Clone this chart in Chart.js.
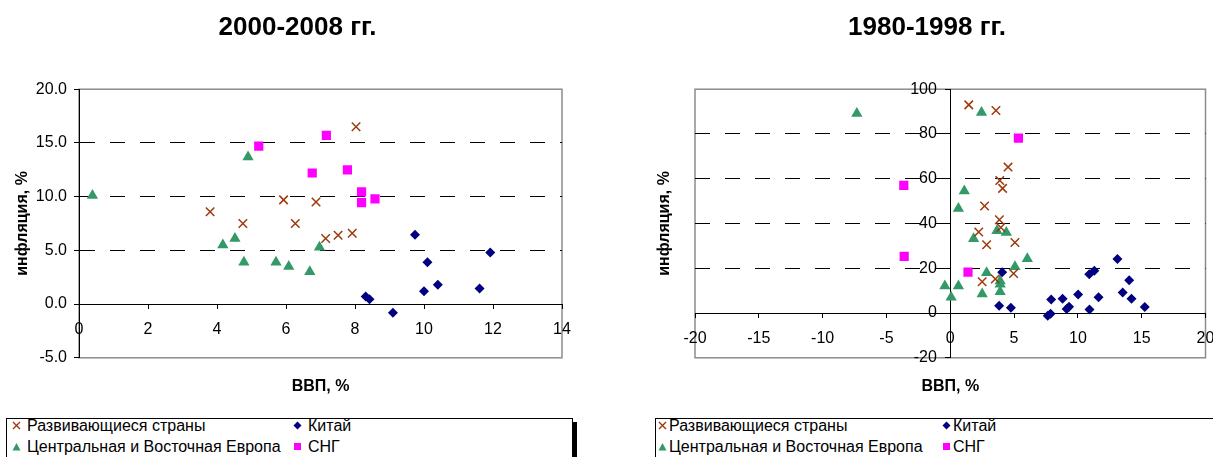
<!DOCTYPE html>
<html lang="ru">
<head>
<meta charset="utf-8">
<script src="https://cdn.jsdelivr.net/npm/chart.js@4"></script>
<style>
  body { margin: 0; background: #fff; width: 1213px; height: 457px; overflow: hidden; position: relative;
         font-family: "Liberation Sans", Arial, sans-serif; }
  canvas { position: absolute; top: 0; }
  #c1 { left: 0; }
  #c2 { left: 641px; }
  .box { position: absolute; top: 418px; height: 60px; border: 1px solid #000; box-shadow: 4px 4px 0 #000; background: #fff; }
  .it { position: absolute; font-size: 16px; line-height: 21px; white-space: nowrap; color: #000; }
  .it svg { position: absolute; left: -15px; top: 6px; }
  .r svg { left: -11px; }
</style>
</head>
<body>
<canvas id="c1" width="595" height="400"></canvas>
<canvas id="c2" width="572" height="400"></canvas>

<div class="box" style="left:6px;width:565px"></div>
<div class="box" style="left:655px;width:600px"></div>

<div class="it" style="left:27px;top:415px"><svg width="9" height="9"><path d="M1 1L8 8M8 1L1 8" stroke="#9C3A0C" stroke-width="1.4"/></svg>Развивающиеся страны</div>
<div class="it" style="left:308px;top:415px"><svg width="9" height="9"><polygon points="4.5,0.5 8.5,4.5 4.5,8.5 0.5,4.5" fill="#000080"/></svg>Китай</div>
<div class="it" style="left:27px;top:436px"><svg width="9" height="9"><polygon points="4.5,1 8.5,8.5 0.5,8.5" fill="#339966"/></svg>Центральная и Восточная Европа</div>
<div class="it" style="left:308px;top:436px"><svg width="9" height="9"><rect x="1" y="1" width="7" height="7" fill="#FF00FF"/></svg>СНГ</div>

<div class="it r" style="left:669px;top:415px"><svg width="9" height="9"><path d="M1 1L8 8M8 1L1 8" stroke="#9C3A0C" stroke-width="1.4"/></svg>Развивающиеся страны</div>
<div class="it r" style="left:953px;top:415px"><svg width="9" height="9"><polygon points="4.5,0.5 8.5,4.5 4.5,8.5 0.5,4.5" fill="#000080"/></svg>Китай</div>
<div class="it r" style="left:669px;top:436px"><svg width="9" height="9"><polygon points="4.5,1 8.5,8.5 0.5,8.5" fill="#339966"/></svg>Центральная и Восточная Европа</div>
<div class="it r" style="left:953px;top:436px"><svg width="9" height="9"><rect x="1" y="1" width="7" height="7" fill="#FF00FF"/></svg>СНГ</div>

<script>
// 2000-2008: ВВП (x) и инфляция (y)
const devGdpA = [3.8, 4.75, 5.93, 6.27, 6.87, 7.15, 7.51, 7.92, 8.03];
const devInfA = [8.6, 7.5, 9.7, 7.5, 9.5, 6.1, 6.4, 6.6, 16.5];
const chinaGdpA = [9.74, 10.1, 11.92, 10.4, 10.0, 11.61, 8.31, 8.42, 9.1];
const chinaInfA = [6.45, 3.9, 4.8, 1.8, 1.2, 1.45, 0.7, 0.45, -0.8];
const ceeGdpA = [0.39, 4.9, 4.17, 4.52, 4.78, 5.71, 6.08, 6.69, 6.97];
const ceeInfA = [10.1, 13.7, 5.5, 6.1, 3.9, 3.9, 3.5, 3.0, 5.3];
const cisGdpA = [5.21, 7.17, 6.76, 7.78, 8.19, 8.19, 8.58];
const cisInfA = [14.7, 15.7, 12.2, 12.5, 10.45, 9.45, 9.8];

// 1980-1998
const devGdpB = [1.45, 3.58, 4.53, 3.88, 4.1, 2.69, 3.85, 3.96, 2.23, 5.07, 2.85, 4.96, 3.53, 2.5];
const devInfB = [93.0, 90.5, 65.2, 59.2, 55.7, 47.8, 41.7, 38.2, 36.2, 31.5, 30.5, 17.7, 15.2, 14.0];
const chinaGdpB = [4.07, 3.83, 4.75, 7.91, 8.8, 7.64, 7.86, 9.12, 9.31, 10.02, 10.91, 10.89, 11.29, 11.62, 13.1, 13.51, 14.02, 14.2, 15.24];
const chinaInfB = [18.2, 3.3, 2.4, 6.1, 6.4, -1.2, -0.3, 1.8, 2.8, 8.3, 1.6, 17.3, 18.9, 7.1, 24.1, 9.2, 14.7, 6.4, 2.7];
const ceeGdpB = [-7.32, 2.45, 1.1, 0.64, 1.83, 3.66, 4.39, 6.04, 5.07, 2.85, 3.91, 3.91, 3.91, 2.5, -0.42, 0.64, 0.07];
const ceeInfB = [89.1, 89.6, 54.5, 46.7, 33.2, 36.8, 36.0, 24.3, 20.7, 18.0, 14.3, 12.9, 9.5, 8.5, 12.05, 12.05, 7.0];
const cisGdpB = [5.34, -3.64, -3.61, 1.39];
const cisInfB = [78.1, 57.0, 25.3, 18.3];

const seriesNames = ['Развивающиеся страны', 'Китай', 'Центральная и Восточная Европа', 'СНГ'];

const FONT = 'Liberation Sans, Arial, sans-serif';
const tickFont = { family: FONT, size: 16 };
const boldFont = { family: FONT, size: 16, weight: 'bold' };

function pts(xs, ys) {
  return xs.map((x, i) => ({ x: x, y: ys[i] }));
}

function datasets(dev, china, cee, cis) {
  const base = { xAxisID: 'x', yAxisID: 'y' };
  return [
    { ...base, label: seriesNames[0], data: dev, pointStyle: 'crossRot', pointRadius: 6, borderColor: '#9C3A0C', borderWidth: 1.5, backgroundColor: '#9C3A0C' },
    { ...base, label: seriesNames[1], data: china, pointStyle: 'rectRot', pointRadius: 5, borderWidth: 0, backgroundColor: '#000080', borderColor: '#000080' },
    { ...base, label: seriesNames[2], data: cee, pointStyle: 'triangle', pointRadius: 6.5, borderWidth: 0, backgroundColor: '#339966', borderColor: '#339966' },
    { ...base, label: seriesNames[3], data: cis, pointStyle: 'rect', pointRadius: 6.5, borderWidth: 0, backgroundColor: '#FF00FF', borderColor: '#FF00FF' }
  ];
}

// grey frame around the plot area
const frame = {
  id: 'frame',
  beforeDraw(chart) {
    const a = chart.chartArea, c = chart.ctx;
    c.save();
    c.strokeStyle = '#8c8c8c';
    c.lineWidth = 1.5;
    c.strokeRect(a.left, a.top, a.right - a.left, a.bottom - a.top);
    c.restore();
  }
};

const dashedAt = vals => ctx => (ctx.tick && vals.includes(ctx.tick.value)) ? '#000' : 'rgba(0,0,0,0)';
const noWidth = s => { s.width = 0; s.paddingTop = s.paddingBottom = s.paddingLeft = s.paddingRight = 0; };
const noHeight = s => { s.height = 0; s.paddingTop = s.paddingBottom = s.paddingLeft = s.paddingRight = 0; };
const fixWidth = w => s => { s.width = w; };

function titleOpts(text) {
  return { display: true, text: text, color: '#000', font: { family: FONT, size: 26, weight: 'bold' }, padding: { top: 12, bottom: 46 } };
}

// empty axis that only reserves space on the right
function spacer(w) {
  return {
    type: 'linear', position: 'right', ticks: { display: false },
    grid: { display: false, drawTicks: false }, border: { display: false }, afterFit: fixWidth(w)
  };
}

new Chart(document.getElementById('c1'), {
  type: 'scatter',
  data: { datasets: datasets(pts(devGdpA, devInfA), pts(chinaGdpA, chinaInfA), pts(ceeGdpA, ceeInfA), pts(cisGdpA, cisInfA)) },
  options: {
    responsive: false,
    animation: false,
    devicePixelRatio: 1,
    layout: { padding: 0 },
    plugins: { legend: { display: false }, tooltip: { enabled: false }, title: titleOpts('2000-2008 гг.') },
    scales: {
      x: {
        type: 'linear', position: { y: 0 }, min: 0, max: 14,
        ticks: { stepSize: 2, color: '#000', font: tickFont, padding: 12 },
        grid: { drawOnChartArea: false, tickLength: 4, tickColor: '#000' },
        border: { color: '#000', width: 1 },
        afterFit: noHeight
      },
      xt: {
        type: 'linear', position: 'bottom', min: 0, max: 14,
        ticks: { display: false },
        grid: { display: false, drawTicks: false },
        border: { display: false },
        title: { display: true, text: 'ВВП, %', color: '#000', font: boldFont, padding: { top: 19, bottom: 4 } }
      },
      y: {
        type: 'linear', position: 'left', min: -5, max: 20,
        ticks: { stepSize: 5, color: '#000', font: tickFont, padding: 7, callback: v => v.toFixed(1) },
        grid: { color: dashedAt([5, 10, 15]), tickColor: '#000', tickLength: 5 },
        border: { color: '#000', width: 1, dash: [15, 15] },
        title: { display: true, text: 'инфляция, %', color: '#000', font: boldFont, padding: { top: 13, bottom: 0 } },
        afterFit: fixWidth(79)
      },
      yr: spacer(33)
    }
  },
  plugins: [frame]
});

new Chart(document.getElementById('c2'), {
  type: 'scatter',
  data: { datasets: datasets(pts(devGdpB, devInfB), pts(chinaGdpB, chinaInfB), pts(ceeGdpB, ceeInfB), pts(cisGdpB, cisInfB)) },
  options: {
    responsive: false,
    animation: false,
    devicePixelRatio: 1,
    layout: { padding: 0 },
    plugins: { legend: { display: false }, tooltip: { enabled: false }, title: titleOpts('1980-1998 гг.') },
    scales: {
      x: {
        type: 'linear', position: { y: 0 }, min: -20, max: 20,
        ticks: { stepSize: 5, color: '#000', font: tickFont, padding: 12 },
        grid: { drawOnChartArea: false, tickLength: 4, tickColor: '#000' },
        border: { color: '#000', width: 1 },
        afterFit: noHeight
      },
      xt: {
        type: 'linear', position: 'bottom', min: -20, max: 20,
        ticks: { display: false },
        grid: { display: false, drawTicks: false },
        border: { display: false },
        title: { display: true, text: 'ВВП, %', color: '#000', font: boldFont, padding: { top: 19, bottom: 4 } }
      },
      y: {
        type: 'linear', position: { x: 0 }, min: -20, max: 100,
        ticks: { stepSize: 20, color: '#000', font: tickFont, callback: v => v + '   ' },
        grid: { color: dashedAt([20, 40, 60, 80]), tickColor: '#000', tickLength: 5 },
        border: { color: '#000', width: 1, dash: [15, 15] },
        afterFit: noWidth
      },
      yt: {
        type: 'linear', position: 'left', min: -20, max: 100,
        ticks: { display: false },
        grid: { display: false, drawTicks: false },
        border: { display: false },
        title: { display: true, text: 'инфляция, %', color: '#000', font: boldFont, padding: { top: 14, bottom: 0 } },
        afterFit: fixWidth(54)
      },
      yr: spacer(5)
    }
  },
  plugins: [frame]
});
</script>
</body>
</html>
